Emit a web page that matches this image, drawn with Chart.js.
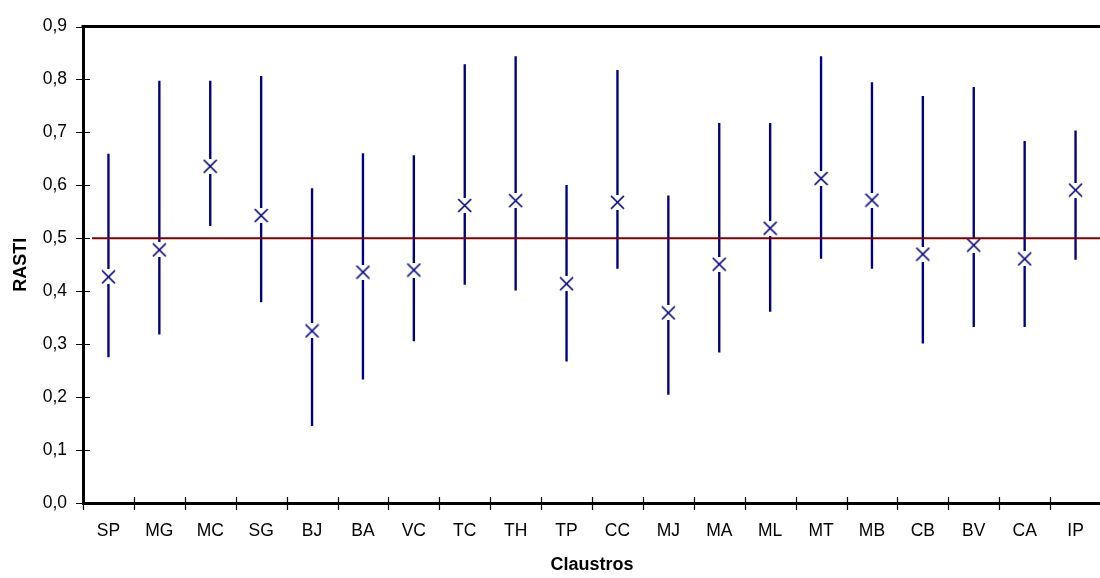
<!DOCTYPE html>
<html>
<head>
<meta charset="utf-8">
<script src="https://cdn.jsdelivr.net/npm/chart.js@4/dist/chart.umd.min.js"></script>
<style>
  html, body { margin: 0; padding: 0; background: #fff; overflow: hidden; }
  #wrap { width: 1110px; height: 578px; }
</style>
</head>
<body>
<div id="wrap"><canvas id="c" width="1110" height="578"></canvas></div>
<script>
const categories = ['SP','MG','MC','SG','BJ','BA','VC','TC','TH','TP','CC','MJ','MA','ML','MT','MB','CB','BV','CA','IP'];
const means = [0.427,0.478,0.636,0.543,0.325,0.436,0.440,0.562,0.571,0.414,0.568,0.359,0.451,0.519,0.613,0.572,0.470,0.487,0.461,0.591];
const lows  = [0.276,0.319,0.524,0.380,0.146,0.234,0.306,0.413,0.402,0.268,0.443,0.205,0.285,0.362,0.462,0.443,0.302,0.333,0.333,0.460];
const highs = [0.659,0.797,0.797,0.806,0.594,0.660,0.656,0.828,0.843,0.600,0.817,0.580,0.717,0.717,0.843,0.794,0.768,0.785,0.683,0.703];
const threshold = 0.5;
const yTicks = [0,0.1,0.2,0.3,0.4,0.5,0.6,0.7,0.8,0.9];

const NAVY = '#000080';
const RED = '#800000';

// X marker with white box behind it
const marker = document.createElement('canvas');
marker.width = 15; marker.height = 15;
(function(){
  const m = marker.getContext('2d');
  m.fillStyle = '#fff';
  m.fillRect(0, 0, 15, 15);
  m.strokeStyle = NAVY;
  m.lineWidth = 1.6;
  m.beginPath();
  m.moveTo(1, 1); m.lineTo(14, 14);
  m.moveTo(14, 1); m.lineTo(1, 14);
  m.stroke();
})();

const decor = {
  id: 'decor',
  afterDatasetsDraw(chart) {
    const {ctx, chartArea, scales} = chart;
    const y = scales.y;
    ctx.save();
    // threshold line
    const ty = y.getPixelForValue(threshold);
    ctx.strokeStyle = RED;
    ctx.lineWidth = 2;
    ctx.beginPath();
    ctx.moveTo(chartArea.left + 9, ty);
    ctx.lineTo(chartArea.right, ty);
    ctx.stroke();
    ctx.restore();
  },
  afterDraw(chart) {
    const {ctx, chartArea, scales} = chart;
    const y = scales.y, x = scales.x;
    ctx.save();
    ctx.strokeStyle = '#000';
    ctx.lineWidth = 1.2;
    ctx.beginPath();
    yTicks.forEach(v => {
      const py = Math.round(y.getPixelForValue(v)) + 0.5;
      ctx.moveTo(chartArea.left - 7, py);
      ctx.lineTo(chartArea.left + 7, py);
    });
    const n = categories.length;
    const w = (x.right - x.left) / n;
    for (let i = 0; i <= n; i++) {
      const px = Math.round(x.left + i * w) + 0.5;
      ctx.moveTo(px, chartArea.bottom - 6);
      ctx.lineTo(px, chartArea.bottom + 7);
    }
    ctx.stroke();
    // top border of plot area
    ctx.lineWidth = 3;
    ctx.beginPath();
    ctx.moveTo(chartArea.left - 1.5, chartArea.top);
    ctx.lineTo(chartArea.right + 10, chartArea.top);
    ctx.stroke();
    ctx.restore();
  }
};

const fmt = v => Number(v).toFixed(1).replace('.', ',');

new Chart(document.getElementById('c'), {
  type: 'bar',
  data: {
    labels: categories,
    datasets: [
      {
        type: 'line',
        label: 'Média',
        data: means,
        showLine: false,
        pointStyle: marker,
        pointRadius: 8,
        order: 0
      },
      {
        type: 'bar',
        label: 'Intervalo',
        data: categories.map((c, i) => [lows[i], highs[i]]),
        backgroundColor: NAVY,
        borderWidth: 0,
        barThickness: 1.7,
        order: 1
      }
    ]
  },
  options: {
    responsive: false,
    animation: false,
    layout: { padding: { top: 16, right: 6, left: 0, bottom: 0 } },
    plugins: { legend: { display: false }, tooltip: { enabled: false } },
    scales: {
      x: {
        type: 'category',
        offset: true,
        grid: { display: false, drawTicks: false },
        border: { display: true, color: '#000', width: 3 },
        ticks: { color: '#000', font: { family: 'Liberation Sans, Arial, sans-serif', size: 17.5 }, padding: 18, maxRotation: 0, autoSkip: false },
        title: { display: true, text: 'Claustros', color: '#000', font: { family: 'Liberation Sans, Arial, sans-serif', size: 18, weight: 'bold' }, padding: { top: 0, bottom: 2 } },
        afterFit(s) { s.height = 75; }
      },
      y: {
        type: 'linear',
        min: 0,
        max: 0.9,
        afterBuildTicks(s) { s.ticks = yTicks.map(v => ({ value: v })); },
        grid: { display: false, drawTicks: false },
        border: { display: true, color: '#000', width: 3 },
        ticks: { color: '#000', font: { family: 'Liberation Sans, Arial, sans-serif', size: 17.5 }, padding: 16, callback: v => fmt(v) },
        title: { display: true, text: 'RASTI', color: '#000', font: { family: 'Liberation Sans, Arial, sans-serif', size: 18, weight: 'bold' }, padding: { top: 10, bottom: 0 } },
        afterFit(s) { s.width = 83; }
      }
    }
  },
  plugins: [decor]
});
</script>
</body>
</html>
